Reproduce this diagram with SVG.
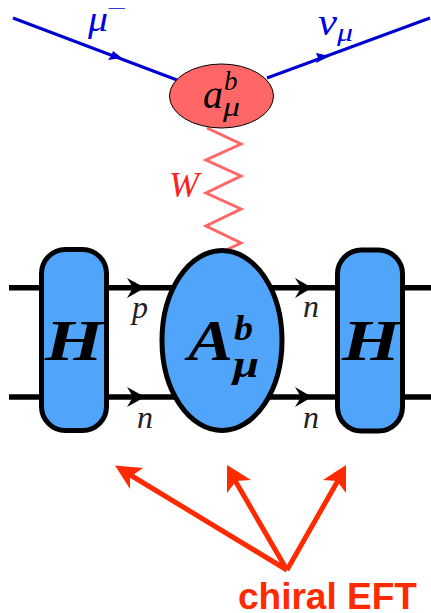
<svg xmlns="http://www.w3.org/2000/svg" width="431" height="613" viewBox="0 0 431 613">
<style>
.m{font-family:"Liberation Serif","DejaVu Serif",serif;font-style:italic}
.b{font-family:"Liberation Serif","DejaVu Serif",serif;font-style:italic;font-weight:bold;fill:#000}
.blue{fill:#0000e0}
.n{font-size:32px;fill:#222}
.node{fill:#50a5fa;stroke:#000;stroke-width:5}
.fer{stroke:#000;stroke-width:5.5;fill:none}
.lep{stroke:#0000d0;stroke-width:3;fill:none}
.red{stroke:#ff2a00;stroke-width:5;fill:none}
</style>
<rect width="431" height="613" fill="#fff"/>
<g id="connectors">
<path class="lep" d="M13 18L177 80M267 78L430 18"/>
<path fill="#0000d0" d="M122 58L108 60L111 56L113 51ZM330 56L316 63L318 58L316 53Z"/>
<path d="M207 128L241 144L206 160L241 176L206 193L241 209L206 226L241 243L226 250" fill="none" stroke="#ff6666" stroke-width="3"/>
<path class="fer" d="M9 287.7H431M9 397H431"/>
<path d="M145 287.7L127 278L133 287.7L127 298Z"/>
<path d="M145 397L127 387L133 397L127 407Z"/>
<path d="M312 287.7L295 278L301 287.7L295 298Z"/>
<path d="M312 397L295 387L301 397L295 407Z"/>
<path class="red" d="M287 570L127 473M287 570L233 477M287 570L340 477"/>
<path fill="#ff2a00" d="M115 465.5L143 468L130 477L130 489ZM227 465L251 480L236 481L227 493ZM346 465L346 493L337 481L323 480Z"/>
</g>
<g id="node-vertex">
<ellipse cx="221.5" cy="96" rx="52" ry="32" fill="#ff6666" stroke="#000" stroke-width="1"/>
<text class="m" x="203" y="108" font-size="40">a</text>
<text class="m" x="224" y="90" font-size="27">b</text>
<text class="m" x="223" y="116" font-size="27" textLength="17" lengthAdjust="spacingAndGlyphs">μ</text>
</g>
<g id="node-h-left">
<rect class="node" x="41.5" y="249.5" width="65" height="181" rx="24"/>
<text class="b" x="45" y="360" font-size="56" textLength="58" lengthAdjust="spacingAndGlyphs">H</text>
</g>
<g id="node-a">
<ellipse class="node" cx="222" cy="340.5" rx="60" ry="90"/>
<text class="b" x="188" y="360" font-size="56" textLength="45" lengthAdjust="spacingAndGlyphs">A</text>
<text class="b" x="234" y="340" font-size="36" textLength="19" lengthAdjust="spacingAndGlyphs">b</text>
<text class="b" x="233" y="377" font-size="38" textLength="26" lengthAdjust="spacingAndGlyphs">μ</text>
</g>
<g id="node-h-right">
<rect class="node" x="337.5" y="250" width="65" height="181" rx="24"/>
<text class="b" x="342" y="360" font-size="56" textLength="58" lengthAdjust="spacingAndGlyphs">H</text>
</g>
<g id="labels">
<text class="m blue" x="88" y="31" font-size="36" textLength="20" lengthAdjust="spacingAndGlyphs">μ</text>
<text class="blue" x="107" y="13" font-size="14" font-family="Liberation Serif,serif" textLength="20" lengthAdjust="spacingAndGlyphs">−</text>
<text class="m blue" x="318" y="35" font-size="38" textLength="19" lengthAdjust="spacingAndGlyphs">ν</text>
<text class="m blue" x="337" y="41" font-size="26" textLength="16" lengthAdjust="spacingAndGlyphs">μ</text>
<text class="m" x="169" y="197" font-size="36" fill="#ff2020">W</text>
<text class="m n" x="132" y="318">p</text>
<text class="m n" x="303" y="317">n</text>
<text class="m n" x="137" y="428">n</text>
<text class="m n" x="303" y="428">n</text>
<text x="238" y="609" font-family="Liberation Sans,Arial,sans-serif" font-weight="bold" font-size="37" fill="#ff2a00">chiral EFT</text>
</g>
</svg>
